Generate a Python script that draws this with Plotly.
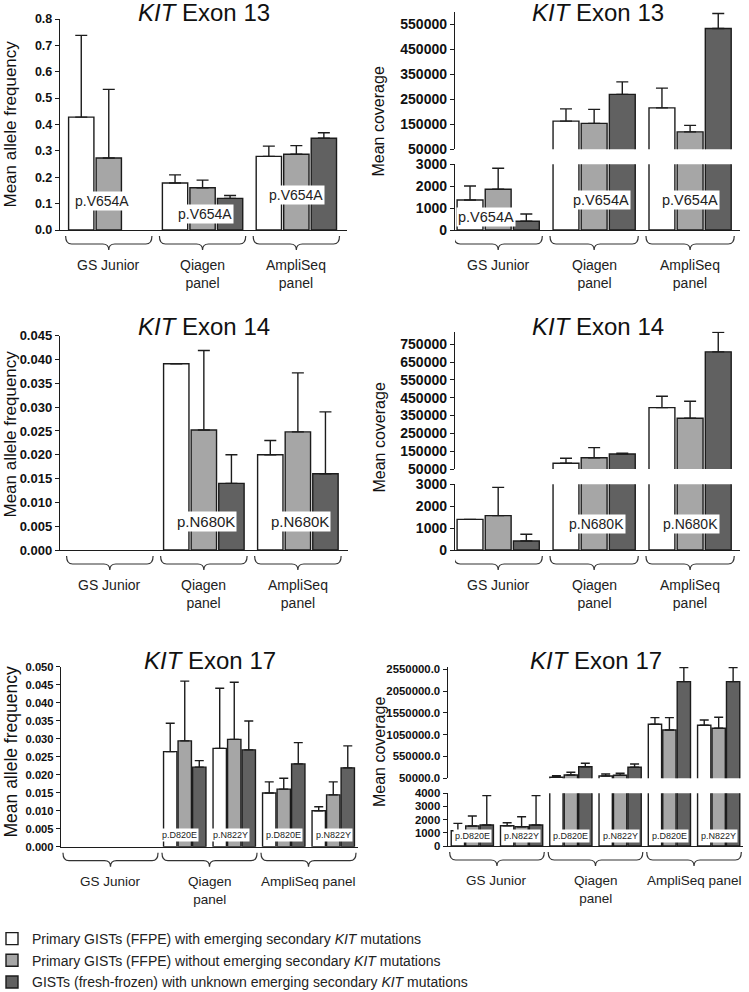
import plotly.graph_objects as go

W, H = 749, 992
FONT = "Arial, 'Liberation Sans', Helvetica, sans-serif"
INK = "#1c1c1c"

# ---------------- data ----------------
series_names = [
    "Primary GISTs (FFPE) with emerging secondary <i>KIT</i> mutations",
    "Primary GISTs (FFPE) without emerging secondary <i>KIT</i> mutations",
    "GISTs (fresh-frozen) with unknown emerging secondary <i>KIT</i> mutations",
]
series_colors = ["#ffffff", "#a6a6a6", "#616161"]

platforms = ["GS Junior", "Qiagen panel", "AmpliSeq panel"]
platform_labels = ["GS Junior", "Qiagen<br>panel", "AmpliSeq<br>panel"]
platform_labels_17 = ["GS Junior", "Qiagen<br>panel", "AmpliSeq panel"]
mutation_13 = "p.V654A"
mutation_14 = "p.N680K"
mutations_17 = ["p.D820E", "p.N822Y"]
categories_17 = [p + " " + m for p in platforms for m in mutations_17]

# KIT exon 13 - mean allele frequency
af13_white = [0.428, 0.178, 0.279]
af13_white_sd = [0.310, 0.031, 0.039]
af13_gray = [0.273, 0.160, 0.287]
af13_gray_sd = [0.260, 0.029, 0.033]
af13_dark = [None, 0.120, 0.348]
af13_dark_sd = [None, 0.011, 0.021]

# KIT exon 13 - mean coverage
cov13_white = [1370, 163000, 216000]
cov13_white_sd = [640, 49000, 79000]
cov13_gray = [1860, 154000, 120000]
cov13_gray_sd = [960, 56000, 26000]
cov13_dark = [400, 270000, 534000]
cov13_dark_sd = [330, 50000, 60000]

# KIT exon 14 - mean allele frequency
af14_white = [None, 0.0391, 0.0200]
af14_white_sd = [None, None, 0.0030]
af14_gray = [None, 0.0252, 0.0248]
af14_gray_sd = [None, 0.0167, 0.0124]
af14_dark = [None, 0.0140, 0.0160]
af14_dark_sd = [None, 0.0060, 0.0130]

# KIT exon 14 - mean coverage
cov14_white = [1400, 82000, 394000]
cov14_white_sd = [None, 28000, 64000]
cov14_gray = [1570, 113000, 335000]
cov14_gray_sd = [1290, 57000, 95000]
cov14_dark = [410, 134000, 707000]
cov14_dark_sd = [310, 4000, 110000]

# KIT exon 17 - mean allele frequency (per platform: D820E, N822Y)
af17_white = [None, None, 0.0264, 0.0273, 0.0149, 0.0100]
af17_white_sd = [None, None, 0.0079, 0.0167, 0.0031, 0.0011]
af17_gray = [None, None, 0.0294, 0.0298, 0.0160, 0.0144]
af17_gray_sd = [None, None, 0.0166, 0.0159, 0.0030, 0.0036]
af17_dark = [None, None, 0.0221, 0.0269, 0.0230, 0.0219]
af17_dark_sd = [None, None, 0.0018, 0.0080, 0.0059, 0.0061]

# KIT exon 17 - mean coverage
cov17_white = [1160, 1540, 73000, 103000, 1288000, 1266000]
cov17_white_sd = [560, 230, 37000, 46000, 152000, 121000]
cov17_gray = [1520, 1465, 126000, 119000, 1158000, 1197000]
cov17_gray_sd = [760, 755, 62000, 46000, 282000, 252000]
cov17_dark = [1590, 1590, 316000, 302000, 2266000, 2266000]
cov17_dark_sd = [2230, 2230, 78000, 76000, 321000, 321000]

# tick values
ticks_af13 = [0.0, 0.1, 0.2, 0.3, 0.4, 0.5, 0.6, 0.7, 0.8]
ticks_af14 = [0.000, 0.005, 0.010, 0.015, 0.020, 0.025, 0.030, 0.035, 0.040, 0.045]
ticks_af17 = [0.000, 0.005, 0.010, 0.015, 0.020, 0.025, 0.030, 0.035, 0.040, 0.045, 0.050]
ticks_cov_low = [0, 1000, 2000, 3000]
ticks_cov_low17 = [0, 1000, 2000, 3000, 4000]
ticks_cov13_high = [50000, 150000, 250000, 350000, 450000, 550000]
ticks_cov14_high = [50000, 150000, 250000, 350000, 450000, 550000, 650000, 750000]
ticks_cov17_high = [50000, 550000, 1050000, 1550000, 2050000, 2550000]

# ---------------- helpers ----------------
fig = go.Figure()
layout = {}
annotations = []
shapes = []
counter = {"x": 0, "y": 0}


def px_x(p):
    return p / W


def px_y(p):
    return 1 - p / H


def new_axis(kind):
    counter[kind] += 1
    n = counter[kind]
    tid = kind if n == 1 else f"{kind}{n}"
    key = kind + "axis" + ("" if n == 1 else str(n))
    return tid, key


def add_bars(xid, yid, cats, vals, sds, showlegend, cap):
    for i in range(3):
        minus = [0 if s is not None else None for s in sds[i]]
        fig.add_trace(go.Bar(
            x=cats, y=vals[i], name=series_names[i], legendgroup=f"s{i}",
            showlegend=showlegend,
            marker=dict(color=series_colors[i], line=dict(color=INK, width=1.4)),
            error_y=dict(type="data", symmetric=False, array=sds[i], arrayminus=minus,
                         color=INK, thickness=1.4, width=cap, visible=True),
            xaxis=xid, yaxis=yid, hoverinfo="skip",
        ))


def yaxis_dict(ydom, yrng, tickvals, fmt, tsize, anchor):
    return dict(
        domain=[px_y(ydom[1]), px_y(ydom[0])], range=yrng, anchor=anchor,
        showline=True, linecolor=INK, linewidth=1.4, ticks="outside", ticklen=4,
        tickwidth=1.2, tickcolor=INK, tickvals=tickvals, tickformat=fmt,
        showgrid=False, zeroline=False,
        tickfont=dict(family=FONT, size=tsize, color="#111", weight="bold"),
    )


def panel(cats, xdom, xrng, title, title_y, ytitle, ytitle_pos, ytitle_size,
          axes, vals, sds, showlegend, cap, brace_groups, brace_labels, label_size,
          mut_labels, mut_size):
    xid, xkey = new_axis("x")
    first_y = None
    for k, ax in enumerate(axes):
        yid, ykey = new_axis("y")
        if first_y is None:
            first_y = yid
        layout[ykey] = yaxis_dict(ax["dom"], ax["range"], ax["ticks"], ax["fmt"], ax["tsize"], xid)
        add_bars(xid, yid, cats, vals, sds, showlegend and k == 0, cap)
    layout[xkey] = dict(
        domain=[px_x(xdom[0]), px_x(xdom[1])], range=xrng, anchor=first_y,
        type="category", categoryorder="array", categoryarray=cats,
        showline=True, linecolor=INK, linewidth=1.4, ticks="", showticklabels=False,
        showgrid=False, zeroline=False,
    )
    bottom = axes[0]["dom"][1]
    ppu = (xdom[1] - xdom[0]) / (xrng[1] - xrng[0])
    d = 6 / ppu
    yt, ym, yb = px_y(bottom + 6), px_y(bottom + 14), px_y(bottom + 20)
    for (a, b), lab in zip(brace_groups, brace_labels):
        xc = (a + b) / 2
        path = (f"M{a},{yt} Q{a},{ym} {a + d},{ym} L{xc - d},{ym} Q{xc},{ym} {xc},{yb} "
                f"Q{xc},{ym} {xc + d},{ym} L{b - d},{ym} Q{b},{ym} {b},{yt}")
        shapes.append(dict(type="path", xref=xid, yref="paper", path=path,
                           line=dict(color="#333", width=1.2)))
        annotations.append(dict(text=lab, x=xc, xref=xid, y=px_y(bottom + 25), yref="paper",
                                yanchor="top", xanchor="center", showarrow=False,
                                font=dict(family=FONT, size=label_size, color="#222")))
    for (mx, my, txt) in mut_labels:
        annotations.append(dict(text=txt, x=mx, xref=xid, y=my, yref=first_y,
                                showarrow=False, bgcolor="white", borderpad=1,
                                font=dict(family=FONT, size=mut_size, color="#222")))
    annotations.append(dict(text=title, x=px_x((xdom[0] + xdom[1]) / 2), xref="paper",
                            y=px_y(title_y), yref="paper", showarrow=False,
                            xanchor="center", yanchor="middle",
                            font=dict(family=FONT, size=24, color="#111")))
    annotations.append(dict(text=ytitle, x=px_x(ytitle_pos[0]), xref="paper",
                            y=px_y(ytitle_pos[1]), yref="paper", showarrow=False,
                            textangle=-90, xanchor="center", yanchor="middle",
                            font=dict(family=FONT, size=ytitle_size, color="#111")))


groups3 = [(i - 0.46, i + 0.46) for i in range(len(platforms))]
groups6 = [(2 * i - 0.46, 2 * i + 1.46) for i in range(len(platforms))]

# ---- Row 1 ----
panel(platforms, (60, 347), [-0.52, 2.54], "<i>KIT</i> Exon 13", 13,
      "Mean allele frequency", (10, 124.5), 17,
      [dict(dom=(19, 230), range=[0, 0.8], ticks=ticks_af13, fmt=".1f", tsize=12.5)],
      [af13_white, af13_gray, af13_dark], [af13_white_sd, af13_gray_sd, af13_dark_sd],
      True, 6, groups3, platform_labels, 14,
      [(-0.07, 0.11, mutation_13), (1.03, 0.059, mutation_13), (2.0, 0.131, mutation_13)], 14)

panel(platforms, (455, 740), [-0.45, 2.52], "<i>KIT</i> Exon 13", 13,
      "Mean coverage", (378.5, 121), 16,
      [dict(dom=(164.3, 230), range=[0, 3000], ticks=ticks_cov_low, fmt="d", tsize=14),
       dict(dom=(12, 149.3), range=[50000, 600000], ticks=ticks_cov13_high, fmt="d", tsize=14)],
      [cov13_white, cov13_gray, cov13_dark], [cov13_white_sd, cov13_gray_sd, cov13_dark_sd],
      False, 6, groups3, platform_labels, 14,
      [(-0.13, 594, mutation_13), (1.07, 1370, mutation_13), (2.0, 1370, mutation_13)], 14.5)

# ---- Row 2 ----
panel(platforms, (60, 347.7), [-0.53, 2.53], "<i>KIT</i> Exon 14", 327,
      "Mean allele frequency", (10, 434.5), 17,
      [dict(dom=(335.7, 550), range=[0, 0.045], ticks=ticks_af14, fmt=".3f", tsize=13)],
      [af14_white, af14_gray, af14_dark], [af14_white_sd, af14_gray_sd, af14_dark_sd],
      False, 6, groups3, platform_labels, 14,
      [(1.02, 0.0059, mutation_14), (2.02, 0.0059, mutation_14)], 15)

panel(platforms, (455, 740), [-0.45, 2.52], "<i>KIT</i> Exon 14", 327,
      "Mean coverage", (378.5, 437), 16,
      [dict(dom=(484.3, 550), range=[0, 3000], ticks=ticks_cov_low, fmt="d", tsize=14),
       dict(dom=(331.7, 469), range=[50000, 820000], ticks=ticks_cov14_high, fmt="d", tsize=14)],
      [cov14_white, cov14_gray, cov14_dark], [cov14_white_sd, cov14_gray_sd, cov14_dark_sd],
      False, 6, groups3, platform_labels, 14,
      [(1.02, 1187, mutation_14), (2.0, 1187, mutation_14)], 14)

# ---- Row 3 ----
mut17_af = [(2 - 0.1, 0.0032, mutations_17[0]), (3 - 0.07, 0.0032, mutations_17[1]),
            (4.0, 0.0032, mutations_17[0]), (5.0, 0.0032, mutations_17[1])]
panel(categories_17, (61, 358), [-0.5, 5.5], "<i>KIT</i> Exon 17", 660,
      "Mean allele frequency", (10.5, 752), 17.5,
      [dict(dom=(666.7, 846.7), range=[0, 0.05], ticks=ticks_af17, fmt=".3f", tsize=11.2)],
      [af17_white, af17_gray, af17_dark], [af17_white_sd, af17_gray_sd, af17_dark_sd],
      False, 4.5, groups6, platform_labels_17, 13.5, mut17_af, 9)

mut17_cov = [(i, 760, mutations_17[i % 2]) for i in range(len(categories_17))]
panel(categories_17, (447.7, 743.3), [-0.5, 5.5], "<i>KIT</i> Exon 17", 660,
      "Mean coverage", (379, 752), 16,
      [dict(dom=(793.3, 846), range=[0, 4000], ticks=ticks_cov_low17, fmt="d", tsize=11.4),
       dict(dom=(667, 778.3), range=[50000, 2600000], ticks=ticks_cov17_high, fmt=".1f", tsize=11.4)],
      [cov17_white, cov17_gray, cov17_dark], [cov17_white_sd, cov17_gray_sd, cov17_dark_sd],
      False, 4.5, groups6, platform_labels_17, 13.5, mut17_cov, 9)

fig.update_layout(
    width=W, height=H, margin=dict(l=0, r=0, t=0, b=0, autoexpand=False),
    paper_bgcolor="white", plot_bgcolor="rgba(0,0,0,0)",
    barmode="group", bargap=0.12, bargroupgap=0.08,
    showlegend=True,
    legend=dict(x=-8 / W, xanchor="left", y=px_y(923), yanchor="top",
                font=dict(family=FONT, size=14, color="#222"),
                bgcolor="rgba(0,0,0,0)", tracegroupgap=0.5, traceorder="grouped"),
    annotations=annotations, shapes=shapes,
    **layout,
)

fig.write_html(
    "out.html",
    config={"displayModeBar": False},
    post_script="document.body.style.margin='0';document.body.style.padding='0';"
                "document.body.style.overflow='hidden';",
)
